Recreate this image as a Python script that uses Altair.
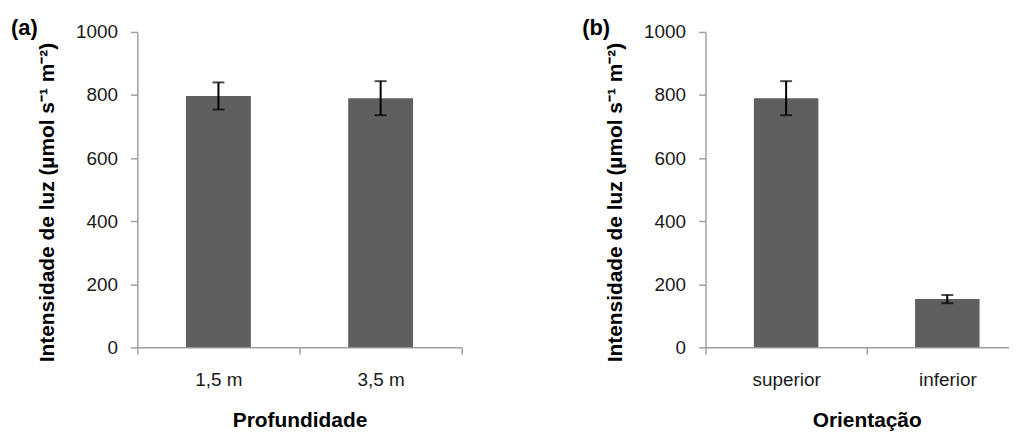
import altair as alt
import pandas as pd

# ---- data ----
depth_labels = ["1,5 m", "3,5 m"]
depth_means = [797, 790]
depth_errors = [43, 54]

orient_labels = ["superior", "inferior"]
orient_means = [790, 153]
orient_errors = [54, 13]

y_ticks = [0, 200, 400, 600, 800, 1000]
y_title = "Intensidade de luz (µmol s⁻¹ m⁻²)"

FONT = "Liberation Sans"
BAR = "#5f5f5f"
AXIS = "#a0a0a0"


def panel(labels, means, errors, x_title, tag, tag_dx, width):
    df = pd.DataFrame({"cat": labels, "mean": means, "err": errors})
    base = alt.Chart(df).transform_calculate(
        lo="datum.mean - datum.err", hi="datum.mean + datum.err"
    )
    x_enc = alt.X(
        "cat:N",
        sort=labels,
        title=x_title,
        scale=alt.Scale(paddingInner=0, paddingOuter=0),
        axis=alt.Axis(labelAngle=0, tickBand="extent", labelPadding=16,
                      titlePadding=21),
    )
    y_scale = alt.Scale(domain=[0, 1000], nice=False)
    bars = base.mark_bar(color=BAR, width=alt.RelativeBandSize(0.4)).encode(
        x=x_enc,
        y=alt.Y("mean:Q", scale=y_scale, title=y_title,
                axis=alt.Axis(values=y_ticks, format="d", labelPadding=13,
                              titleX=-84, titleY=171,
                              titleBaseline="alphabetic")),
    )
    rule = base.mark_rule(color="black", strokeWidth=2).encode(
        x=alt.X("cat:N", sort=labels), y="lo:Q", y2="hi:Q"
    )
    cap_lo = base.mark_tick(color="black", thickness=2, size=12,
                            orient="horizontal").encode(
        x=alt.X("cat:N", sort=labels), y="lo:Q")
    cap_hi = base.mark_tick(color="black", thickness=2, size=12,
                            orient="horizontal").encode(
        x=alt.X("cat:N", sort=labels), y="hi:Q")
    return alt.layer(bars, rule, cap_lo, cap_hi).properties(
        width=width,
        height=317,
        title=alt.TitleParams(tag, anchor="start", frame="bounds", dx=tag_dx,
                              dy=21, fontSize=22, fontWeight="bold", font=FONT,
                              color="black"),
    )


left = panel(depth_labels, depth_means, depth_errors, "Profundidade", "(a)", -26, 326)
right = panel(orient_labels, orient_means, orient_errors, "Orientação", "(b)", -23, 324)

chart = (
    alt.hconcat(left, right, spacing=119)
    .properties(padding={"left": 2, "top": 8, "right": -20, "bottom": 0})
    .configure_view(stroke=None)
    .configure_axis(
        grid=False,
        domainColor=AXIS,
        tickColor=AXIS,
        domainWidth=1.5,
        tickWidth=1.5,
        tickSize=7,
        labelFont=FONT,
        labelFontSize=19,
        labelColor="#1a1a1a",
        titleFont=FONT,
        titleFontSize=21,
        titleFontWeight="bold",
        titleColor="black",
    )
)

chart.save("out.html", embed_options={"renderer": "svg", "actions": False})
